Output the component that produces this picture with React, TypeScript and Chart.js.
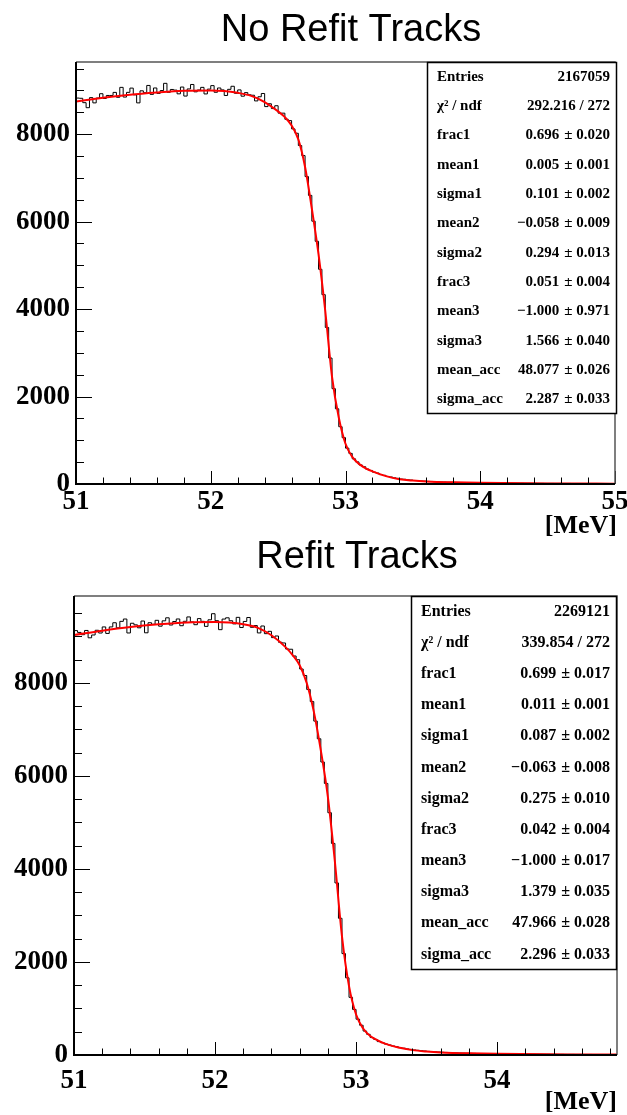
import React, { useEffect, useRef } from "react";
import { Chart, registerables } from "chart.js";

Chart.register(...registerables);

// Histogram binning (MeV)
const BIN_WIDTH = 0.025;
const HIST_START = 51;

// ---- "No Refit Tracks" histogram contents, one value per 0.025 MeV bin from 51 MeV
const noRefitCounts = [
  8825, 8820, 8720, 8605, 8835, 8715, 8825, 8925, 8815, 8885,
  8885, 8955, 8843, 9070, 8848, 8956, 9053, 8899, 8715, 8991,
  8948, 9114, 8910, 9056, 8932, 8997, 9162, 8957, 9022, 9007,
  8922, 9077, 8871, 9034, 9136, 8968, 9010, 9070, 8920, 9030,
  9110, 8958, 9056, 9012, 8885, 9025, 9095, 8935, 9012, 8868,
  8950, 8900, 8890, 8760, 8855, 8930, 8630, 8695, 8585, 8650,
  8480, 8480, 8340, 8310, 8120, 8020, 7740, 7510, 7030, 6600,
  6010, 5550, 4910, 4330, 3580, 2880, 2180, 1720, 1310, 1060,
  820, 700, 575, 505, 435, 395, 340, 310, 270, 250,
  215, 198, 172, 160, 140, 130, 113, 108, 95, 90,
  80, 78, 69, 66, 60, 58, 52, 51, 46, 45,
  41, 40, 37, 36, 35, 32, 31, 30, 29, 27,
  27, 26, 25, 25, 24, 23, 22, 22, 21, 20,
  20, 19, 19, 18, 18, 17, 17, 16, 16, 15,
  15, 15, 14, 14, 13, 13, 13, 12, 12, 12,
  11, 11, 11, 10, 10, 10, 9, 9, 9, 9,
];

// Fitted function sampled along the axis
const noRefitFitX = [
  51.0, 51.2, 51.4, 51.6, 51.8, 52.0, 52.1, 52.2, 52.3, 52.4, 52.5, 52.55, 52.6,
  52.65, 52.7, 52.75, 52.8, 52.85, 52.9, 52.95, 53.0, 53.05, 53.1, 53.15, 53.2,
  53.3, 53.4, 53.5, 53.6, 53.8, 54.0, 54.5, 55.0,
];
const noRefitFitY = [
  8745, 8835, 8903, 8952, 8990, 9000, 8988, 8945, 8875, 8735, 8520, 8390, 8200,
  7880, 7250, 6300, 5250, 3950, 2450, 1520, 920, 620, 460, 360, 290,
  180, 110, 78, 58, 38, 27, 14, 8,
];

const noRefitStatNames = [
  "Entries", "χ² / ndf", "frac1", "mean1", "sigma1", "mean2", "sigma2",
  "frac3", "mean3", "sigma3", "mean_acc", "sigma_acc",
];
const noRefitStatValues = [
  "2167059", "292.216 / 272", "0.696", "0.005", "0.101", "−0.058", "0.294",
  "0.051", "−1.000", "1.566", "48.077", "2.287",
];
const noRefitStatErrors = [
  "", "", "± 0.020", "± 0.001", "± 0.002", "± 0.009", "± 0.013",
  "± 0.004", "± 0.971", "± 0.040", "± 0.026", "± 0.033",
];

// ---- "Refit Tracks" histogram contents
const refitCounts = [
  9126, 9087, 9038, 9129, 8971, 9032, 9133, 9074, 9205, 9065,
  9205, 9295, 9185, 9325, 9375, 9075, 9284, 9250, 9186, 9332,
  9079, 9295, 9261, 9347, 9221, 9336, 9401, 9246, 9321, 9376,
  9231, 9326, 9420, 9312, 9253, 9384, 9325, 9217, 9358, 9489,
  9339, 9146, 9374, 9401, 9338, 9270, 9411, 9192, 9323, 9408,
  9197, 9234, 9076, 9225, 9060, 9110, 8975, 9010, 8875, 8860,
  8730, 8725, 8580, 8500, 8300, 8160, 7860, 7600, 7180, 6800,
  6300, 5840, 5210, 4550, 3700, 2940, 2180, 1660, 1240, 980,
  770, 640, 515, 445, 375, 335, 288, 265, 235, 216,
  193, 178, 158, 146, 130, 121, 108, 101, 91, 86,
  77, 73, 67, 64, 58, 55, 52, 47, 45, 42,
  40, 38, 36, 34, 32, 31, 30, 28, 27, 26,
  25, 24, 24, 23, 22, 22, 21, 20, 20, 19,
  19, 18, 18, 17, 17, 16, 16, 15, 15, 14,
  14, 14, 13, 13, 12, 12, 12, 11, 11, 11,
  10, 10, 10, 9,
];

const refitFitX = [
  51.0, 51.2, 51.4, 51.6, 51.8, 52.0, 52.1, 52.2, 52.3, 52.4, 52.5, 52.55, 52.6,
  52.65, 52.7, 52.75, 52.8, 52.85, 52.9, 52.95, 53.0, 53.05, 53.1, 53.15, 53.2,
  53.3, 53.4, 53.5, 53.6, 53.8, 54.0, 54.5, 54.85,
];
const refitFitY = [
  9030, 9125, 9204, 9261, 9300, 9309, 9298, 9263, 9190, 9025, 8770, 8600, 8380,
  8000, 7390, 6550, 5550, 4150, 2550, 1480, 870, 570, 410, 320, 250,
  160, 105, 75, 55, 35, 25, 13, 9,
];

const refitStatNames = noRefitStatNames;
const refitStatValues = [
  "2269121", "339.854 / 272", "0.699", "0.011", "0.087", "−0.063", "0.275",
  "0.042", "−1.000", "1.379", "47.966", "2.296",
];
const refitStatErrors = [
  "", "", "± 0.017", "± 0.001", "± 0.002", "± 0.008", "± 0.010",
  "± 0.004", "± 0.017", "± 0.035", "± 0.028", "± 0.033",
];

// Axis tick values and labels
const noRefitXTicks = [51, 52, 53, 54, 55];
const refitXTicks = [51, 52, 53, 54];
const yTicks = [0, 2000, 4000, 6000, 8000];
const X_UNIT = "[MeV]";

type Panel = {
  title: string;
  titleX: number;
  titleBaseline: number;
  counts: number[];
  fitX: number[];
  fitY: number[];
  names: string[];
  values: string[];
  errors: string[];
  xMax: number;
  yMax: number;
  xTicks: number[];
  xTickPad: number;
  pageTop: number;
  height: number;
  area: { left: number; top: number; right: number; bottom: number };
  box: { left: number; top: number; right: number; bottom: number };
  statFont: number;
  unitBaseline: number;
};

const WIDTH = 627;
const AXIS_FONT = '"Liberation Serif", "Times New Roman", serif';
const TITLE_FONT = '"Liberation Sans", Arial, sans-serif';

const panels: Panel[] = [
  {
    title: "No Refit Tracks",
    titleX: 351,
    titleBaseline: 41,
    counts: noRefitCounts,
    fitX: noRefitFitX,
    fitY: noRefitFitY,
    names: noRefitStatNames,
    values: noRefitStatValues,
    errors: noRefitStatErrors,
    xMax: 55,
    yMax: 9650,
    xTicks: noRefitXTicks,
    xTickPad: 2,
    pageTop: 0,
    height: 540,
    area: { left: 76, top: 62, right: 615, bottom: 484 },
    box: { left: 427, top: 62, right: 617, bottom: 414 },
    statFont: 15,
    unitBaseline: 533,
  },
  {
    title: "Refit Tracks",
    titleX: 357,
    titleBaseline: 38,
    counts: refitCounts,
    fitX: refitFitX,
    fitY: refitFitY,
    names: refitStatNames,
    values: refitStatValues,
    errors: refitStatErrors,
    xMax: 54.85,
    yMax: 9870,
    xTicks: refitXTicks,
    xTickPad: 10,
    pageTop: 530,
    height: 585,
    area: { left: 74, top: 66, right: 617, bottom: 525 },
    box: { left: 411, top: 66, right: 617, bottom: 440 },
    statFont: 16,
    unitBaseline: 579,
  },
];

function decorPlugin(p: Panel) {
  return {
    id: "rootDecor",
    afterDatasetsDraw(chart: Chart) {
      const ctx = chart.ctx;
      const a = chart.chartArea;
      const xs = chart.scales.x;
      const ys = chart.scales.y;
      ctx.save();

      // tick marks drawn inward from the axes
      ctx.strokeStyle = "#000";
      ctx.lineWidth = 1;
      const nx = Math.round((p.xMax - HIST_START) / 0.2);
      for (let k = 0; k <= nx; k++) {
        const v = HIST_START + k * 0.2;
        const px = Math.round(xs.getPixelForValue(v)) + 0.5;
        const len = k % 5 === 0 ? 13 : 6.5;
        ctx.beginPath();
        ctx.moveTo(px, a.bottom);
        ctx.lineTo(px, a.bottom - len);
        ctx.stroke();
      }
      for (let k = 0; k * 500 <= p.yMax; k++) {
        const py = Math.round(ys.getPixelForValue(k * 500)) + 0.5;
        const len = k % 4 === 0 ? 16 : 8;
        ctx.beginPath();
        ctx.moveTo(a.left, py);
        ctx.lineTo(a.left + len, py);
        ctx.stroke();
      }

      // frame
      ctx.strokeStyle = "#555";
      ctx.lineWidth = 1.5;
      ctx.beginPath();
      ctx.moveTo(a.left, a.top);
      ctx.lineTo(a.right, a.top);
      ctx.lineTo(a.right, a.bottom);
      ctx.stroke();
      ctx.strokeStyle = "#000";
      ctx.lineWidth = 2;
      ctx.beginPath();
      ctx.moveTo(a.left, a.top);
      ctx.lineTo(a.left, a.bottom);
      ctx.lineTo(a.right, a.bottom);
      ctx.stroke();

      // statistics box
      const b = p.box;
      ctx.fillStyle = "#fff";
      ctx.fillRect(b.left, b.top, b.right - b.left, b.bottom - b.top);
      ctx.strokeStyle = "#000";
      ctx.lineWidth = 1.5;
      ctx.strokeRect(b.left + 0.5, b.top + 0.5, b.right - b.left - 1, b.bottom - b.top - 1);
      ctx.fillStyle = "#000";
      ctx.font = `bold ${p.statFont}px ${AXIS_FONT}`;
      ctx.textBaseline = "middle";
      const rowH = (b.bottom - b.top) / p.names.length;
      const errW = ctx.measureText("± 0.000").width;
      for (let i = 0; i < p.names.length; i++) {
        const y = b.top + rowH * (i + 0.5);
        ctx.textAlign = "left";
        ctx.fillText(p.names[i], b.left + 10, y);
        ctx.textAlign = "right";
        if (p.errors[i]) {
          ctx.fillText(p.errors[i], b.right - 7, y);
          ctx.fillText(p.values[i], b.right - 7 - errW - 5, y);
        } else {
          ctx.fillText(p.values[i], b.right - 7, y);
        }
      }

      // title
      ctx.font = `38px ${TITLE_FONT}`;
      ctx.textAlign = "center";
      ctx.textBaseline = "alphabetic";
      ctx.fillText(p.title, p.titleX, p.titleBaseline);

      // axis unit
      ctx.font = `bold 26px ${AXIS_FONT}`;
      ctx.textAlign = "right";
      ctx.fillText(X_UNIT, b.right, p.unitBaseline);

      ctx.restore();
    },
  };
}

function HistPanel({ p }: { p: Panel }) {
  const ref = useRef<HTMLCanvasElement | null>(null);
  useEffect(() => {
    if (!ref.current) return;
    const hist = p.counts.map((c, i) => ({ x: HIST_START + i * BIN_WIDTH, y: c }));
    hist.push({ x: HIST_START + p.counts.length * BIN_WIDTH, y: p.counts[p.counts.length - 1] });
    const fit = p.fitX.map((x, i) => ({ x, y: p.fitY[i] }));
    const tickFont = { family: AXIS_FONT, size: 27, weight: "bold" as const };
    const chart = new Chart(ref.current, {
      type: "line",
      data: {
        datasets: [
          {
            data: fit,
            borderColor: "#ff0000",
            borderWidth: 2,
            pointRadius: 0,
            cubicInterpolationMode: "monotone",
            fill: false,
          },
          {
            data: hist,
            borderColor: "#000",
            borderWidth: 1,
            pointRadius: 0,
            stepped: "before",
            fill: false,
          },
        ],
      },
      options: {
        responsive: false,
        animation: false,
        events: [],
        layout: {
          padding: { top: p.area.top, right: WIDTH - p.area.right, left: 0, bottom: 0 },
        },
        plugins: {
          legend: { display: false },
          title: { display: false },
          tooltip: { enabled: false },
        },
        scales: {
          x: {
            type: "linear",
            min: HIST_START,
            max: p.xMax,
            grid: { display: false, drawTicks: false },
            border: { display: false },
            afterBuildTicks: (s: any) => {
              s.ticks = p.xTicks.map((v) => ({ value: v }));
            },
            afterFit: (s: any) => {
              s.height = p.height - p.area.bottom;
              s.paddingLeft = 0;
              s.paddingRight = 0;
            },
            ticks: {
              autoSkip: false,
              maxRotation: 0,
              padding: p.xTickPad,
              color: "#000",
              font: tickFont,
              callback: (v: any) => String(v),
            },
          },
          y: {
            type: "linear",
            min: 0,
            max: p.yMax,
            grid: { display: false, drawTicks: false },
            border: { display: false },
            afterBuildTicks: (s: any) => {
              s.ticks = yTicks.map((v) => ({ value: v }));
            },
            afterFit: (s: any) => {
              s.width = p.area.left;
              s.paddingTop = 0;
              s.paddingBottom = 0;
            },
            ticks: {
              padding: 6,
              color: "#000",
              font: tickFont,
              callback: (v: any) => String(v),
            },
          },
        },
      },
      plugins: [decorPlugin(p)],
    });
    return () => chart.destroy();
  }, [p]);
  return (
    <canvas
      ref={ref}
      width={WIDTH}
      height={p.height}
      style={{ position: "absolute", left: 0, top: p.pageTop, width: WIDTH, height: p.height, display: "block" }}
    />
  );
}

export default function App() {
  return (
    <div style={{ position: "absolute", left: 0, top: 0, width: WIDTH, height: 1115, background: "#fff" }}>
      {panels.map((p) => (
        <HistPanel key={p.title} p={p} />
      ))}
    </div>
  );
}
